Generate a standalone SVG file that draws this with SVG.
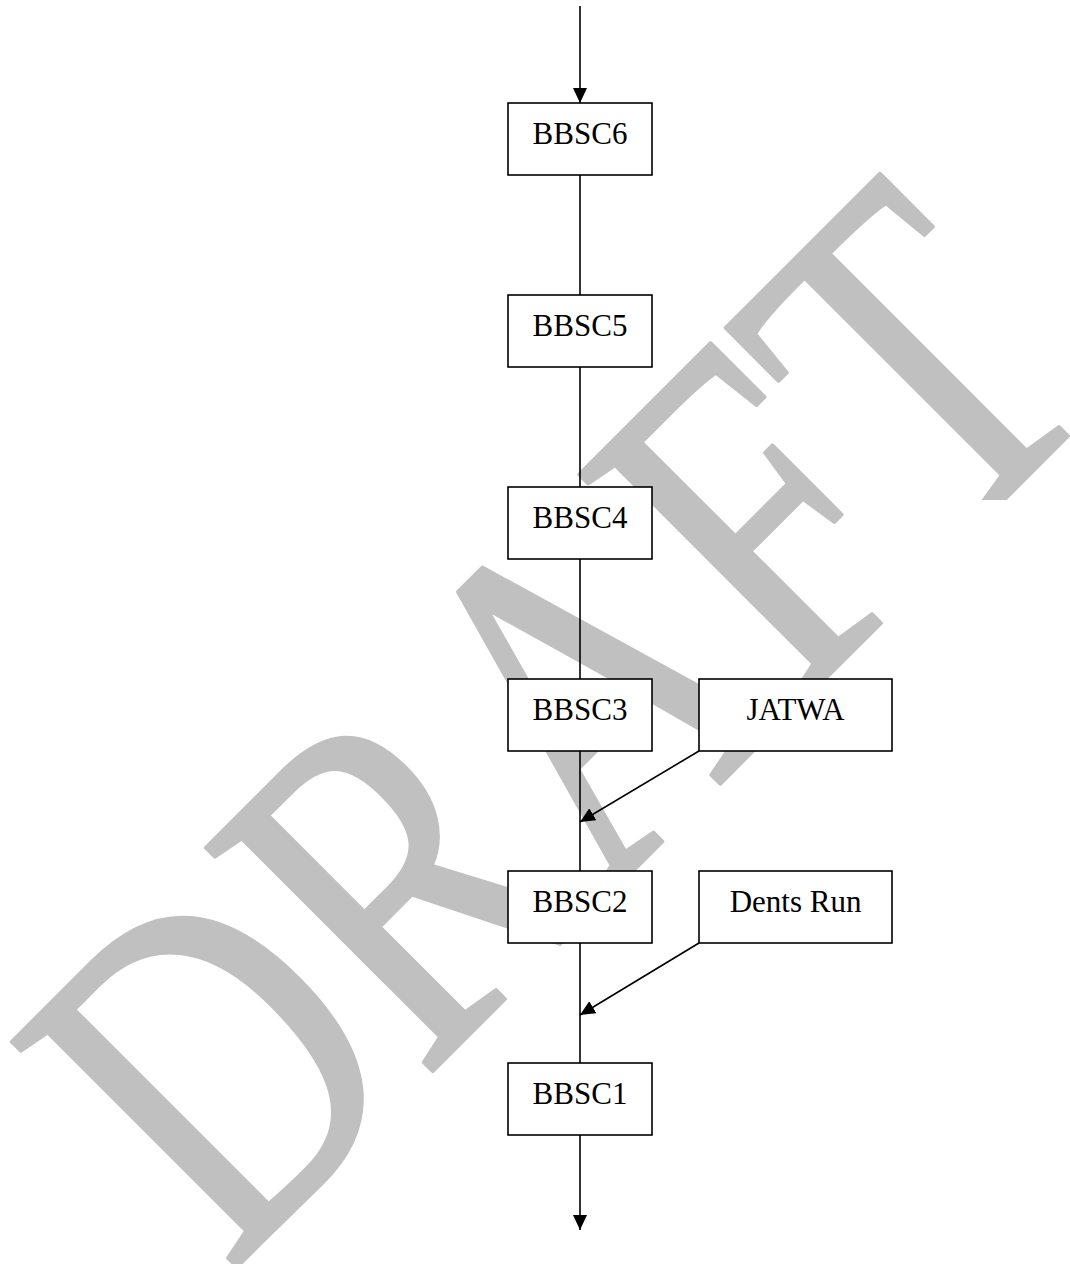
<svg xmlns="http://www.w3.org/2000/svg" width="1070" height="1264" viewBox="0 0 1070 1264">
  <defs>
    <style>
      .box { fill: #ffffff; stroke: #000000; stroke-width: 1.6; }
      .lbl { font-family: "Liberation Serif", "Times New Roman", serif; font-size: 31px; fill: #000000; text-anchor: middle; }
      .edge { stroke: #000000; stroke-width: 1.6; fill: none; }
      .wm { font-family: "Liberation Serif", "Times New Roman", serif; font-size: 380px; fill: #C0C0C0; stroke: #C0C0C0; stroke-width: 3; stroke-linejoin: round; }
    </style>
    <marker id="arr" markerUnits="userSpaceOnUse" markerWidth="16" markerHeight="14" refX="15" refY="7" orient="auto" viewBox="0 0 16 14">
      <path d="M0,0 L15,7 L0,14 z" fill="#000000"/>
    </marker>
    <clipPath id="wmclip">
      <polygon points="0,0 1070,0 1070,500 885,500 885,1073 420,1073 420,1264 0,1264"/>
    </clipPath>
  </defs>
  <rect x="0" y="0" width="1070" height="1264" fill="#ffffff"/>
  <g id="watermark" clip-path="url(#wmclip)">
    <text class="wm" transform="translate(229,1275) rotate(-45) scale(1,1.28)">DRAFT</text>
  </g>
  <g id="connectors">
    <line class="edge" x1="580" y1="6" x2="580" y2="103" marker-end="url(#arr)"/>
    <line class="edge" x1="580" y1="175" x2="580" y2="295"/>
    <line class="edge" x1="580" y1="367" x2="580" y2="487"/>
    <line class="edge" x1="580" y1="559" x2="580" y2="679"/>
    <line class="edge" x1="580" y1="751" x2="580" y2="871"/>
    <line class="edge" x1="580" y1="943" x2="580" y2="1063"/>
    <line class="edge" x1="580" y1="1135" x2="580" y2="1230" marker-end="url(#arr)"/>
    <line class="edge" x1="699" y1="751" x2="580" y2="822" marker-end="url(#arr)"/>
    <line class="edge" x1="699" y1="943" x2="580" y2="1015" marker-end="url(#arr)"/>
  </g>
  <g id="BBSC6"><rect class="box" x="508" y="103" width="144" height="72"/><text class="lbl" x="580" y="144">BBSC6</text></g>
  <g id="BBSC5"><rect class="box" x="508" y="295" width="144" height="72"/><text class="lbl" x="580" y="336">BBSC5</text></g>
  <g id="BBSC4"><rect class="box" x="508" y="487" width="144" height="72"/><text class="lbl" x="580" y="528">BBSC4</text></g>
  <g id="BBSC3"><rect class="box" x="508" y="679" width="144" height="72"/><text class="lbl" x="580" y="720">BBSC3</text></g>
  <g id="BBSC2"><rect class="box" x="508" y="871" width="144" height="72"/><text class="lbl" x="580" y="912">BBSC2</text></g>
  <g id="BBSC1"><rect class="box" x="508" y="1063" width="144" height="72"/><text class="lbl" x="580" y="1104">BBSC1</text></g>
  <g id="JATWA"><rect class="box" x="699" y="679" width="193" height="72"/><text class="lbl" x="795.5" y="720">JATWA</text></g>
  <g id="DentsRun"><rect class="box" x="699" y="871" width="193" height="72"/><text class="lbl" x="795.5" y="912">Dents Run</text></g>
</svg>
